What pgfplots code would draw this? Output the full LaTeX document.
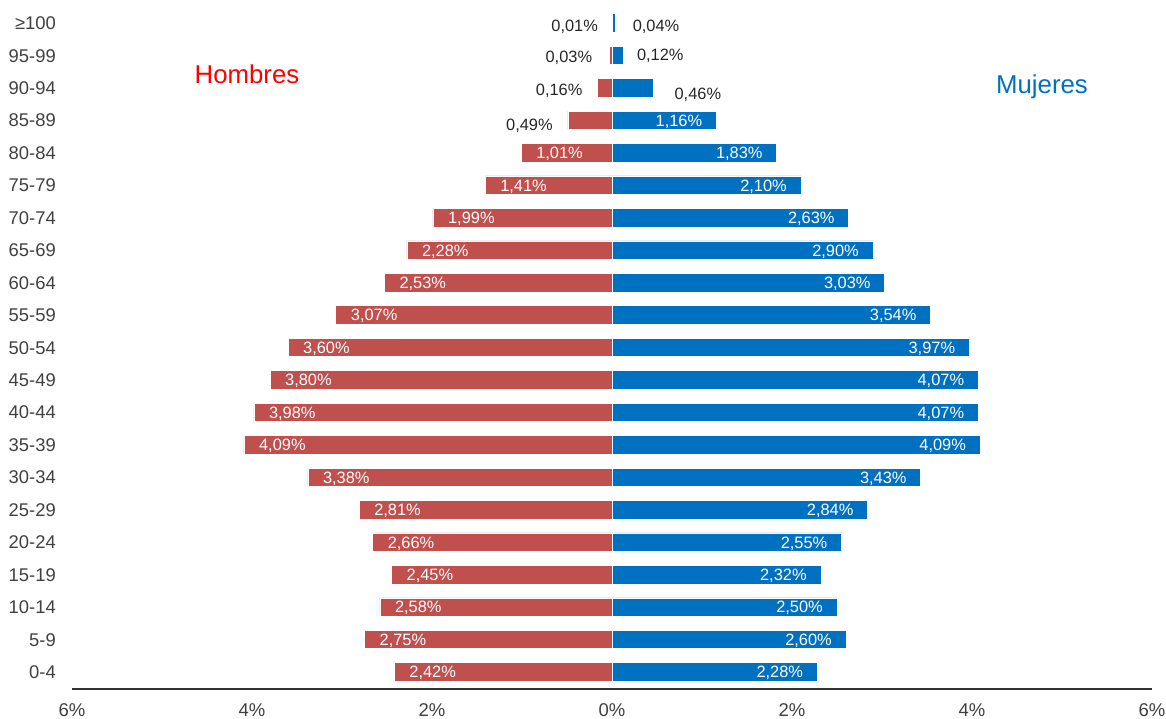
\documentclass[border=0pt]{standalone}
\usepackage{pgfplots}
\pgfplotsset{compat=1.18}
\usepackage{pgfplotstable}
\usepackage{fontspec}
\setmainfont{Liberation Sans}
\definecolor{hred}{HTML}{C0504D}
\definecolor{mblue}{HTML}{0070C0}
\definecolor{txt}{HTML}{404040}
\definecolor{dtxt}{HTML}{262626}

% idx: 0 = 0-4 ... 20 = >=100 ; m = Hombres (%), f = Mujeres (%)
\pgfplotstableread{
idx m f
0 2.42 2.28
1 2.75 2.60
2 2.58 2.50
3 2.45 2.32
4 2.66 2.55
5 2.81 2.84
6 3.38 3.43
7 4.09 4.09
8 3.98 4.07
9 3.80 4.07
10 3.60 3.97
11 3.07 3.54
12 2.53 3.03
13 2.28 2.90
14 1.99 2.63
15 1.41 2.10
16 1.01 1.83
17 0.49 1.16
18 0.16 0.46
19 0.03 0.12
20 0.01 0.04
}\pyr

\pgfplotstableread{
idx v
0 2.42
1 2.75
2 2.58
3 2.45
4 2.66
5 2.81
6 3.38
7 4.09
8 3.98
9 3.80
10 3.60
11 3.07
12 2.53
13 2.28
14 1.99
15 1.41
16 1.01
}\minside

\pgfplotstableread{
idx v
0 2.28
1 2.60
2 2.50
3 2.32
4 2.55
5 2.84
6 3.43
7 4.09
8 4.07
9 4.07
10 3.97
11 3.54
12 3.03
13 2.90
14 2.63
15 2.10
16 1.83
17 1.16
}\finside

\newcommand{\lblfont}{\fontsize{16.4}{18}\selectfont}
\newcommand{\pct}{\pgfmathprintnumber[use comma,fixed,fixed zerofill,precision=2,assume math mode=true]{\pgfplotspointmeta}\%}

\pgfplotsset{
  outm/.style 2 args={draw=none, mark=none, point meta=explicit, nodes near coords={\pct},
    every node near coord/.style={anchor=base east, inner sep=0pt, xshift=#1, yshift=#2, text=dtxt, font=\lblfont}},
  outf/.style 2 args={draw=none, mark=none, point meta=explicit, nodes near coords={\pct},
    every node near coord/.style={anchor=base west, inner sep=0pt, xshift=#1, yshift=#2, text=dtxt, font=\lblfont}},
}

\begin{document}
\begin{tikzpicture}
\path[use as bounding box] (-72pt,-29pt) rectangle (1094pt,689pt);
\begin{axis}[
  anchor=south west, at={(0pt,0pt)},
  x=90pt, y=32.45pt,
  xmin=-6, xmax=6, ymin=-0.524, ymax=20.6,
  axis x line*=bottom, axis y line*=left,
  y axis line style={draw=none},
  x axis line style={draw=black!80, line width=1.2pt},
  tick style={draw=none}, major tick length=0pt,
  xtick={-6,-4,-2,0,2,4,6},
  xticklabels={6\%,4\%,2\%,0\%,2\%,4\%,6\%},
  xticklabel style={anchor=base, inner sep=0pt, yshift=-27pt, text=txt, font=\fontsize{18.5}{20}\selectfont},
  ytick={0,...,20},
  yticklabels={0-4,5-9,10-14,15-19,20-24,25-29,30-34,35-39,40-44,45-49,50-54,55-59,60-64,65-69,70-74,75-79,80-84,85-89,90-94,95-99,≥100},
  yticklabel style={anchor=base east, inner sep=0pt, xshift=-16pt, yshift=-6.6pt, text=txt, font=\fontsize{18.4}{20}\selectfont},
  clip=false,
]
% bars
\addplot[xbar, bar width=18.5pt, bar shift=0pt, fill=hred, draw=white, line width=0.6pt]
  table[x expr=-\thisrow{m}, y=idx] {\pyr};
\addplot[xbar, bar width=18.5pt, bar shift=0pt, fill=mblue, draw=white, line width=0.6pt]
  table[x=f, y=idx] {\pyr};
% labels inside bars
\addplot[draw=none, mark=none, point meta=explicit, nodes near coords={\pct},
  every node near coord/.style={anchor=base west, inner sep=0pt, xshift=15pt, yshift=-5.9pt, text=white, font=\lblfont}]
  table[x expr=-\thisrow{v}, y=idx, meta=v] {\minside};
\addplot[draw=none, mark=none, point meta=explicit, nodes near coords={\pct},
  every node near coord/.style={anchor=base east, inner sep=0pt, xshift=-14pt, yshift=-5.9pt, text=white, font=\lblfont}]
  table[x=v, y=idx, meta=v] {\finside};
% labels outside bars
\addplot[outm={-15pt}{-9.9pt}] coordinates {(-0.49,17) [0.49]};
\addplot[outm={-15pt}{-7.9pt}] coordinates {(-0.16,18) [0.16]};
\addplot[outm={-17pt}{-6.9pt}] coordinates {(-0.03,19) [0.03]};
\addplot[outm={-13pt}{-8.9pt}] coordinates {(-0.01,20) [0.01]};
\addplot[outf={21pt}{-11.9pt}] coordinates {(0.46,18) [0.46]};
\addplot[outf={14pt}{-5.4pt}] coordinates {(0.12,19) [0.12]};
\addplot[outf={17pt}{-8.9pt}] coordinates {(0.04,20) [0.04]};
\node[anchor=base, text=red, font=\fontsize{25.8}{28}\selectfont] at (axis cs:-4.056,18.15) {Hombres};
\node[anchor=base, text=mblue, font=\fontsize{25.8}{28}\selectfont] at (axis cs:4.778,17.84) {Mujeres};
\end{axis}
\end{tikzpicture}
\end{document}
